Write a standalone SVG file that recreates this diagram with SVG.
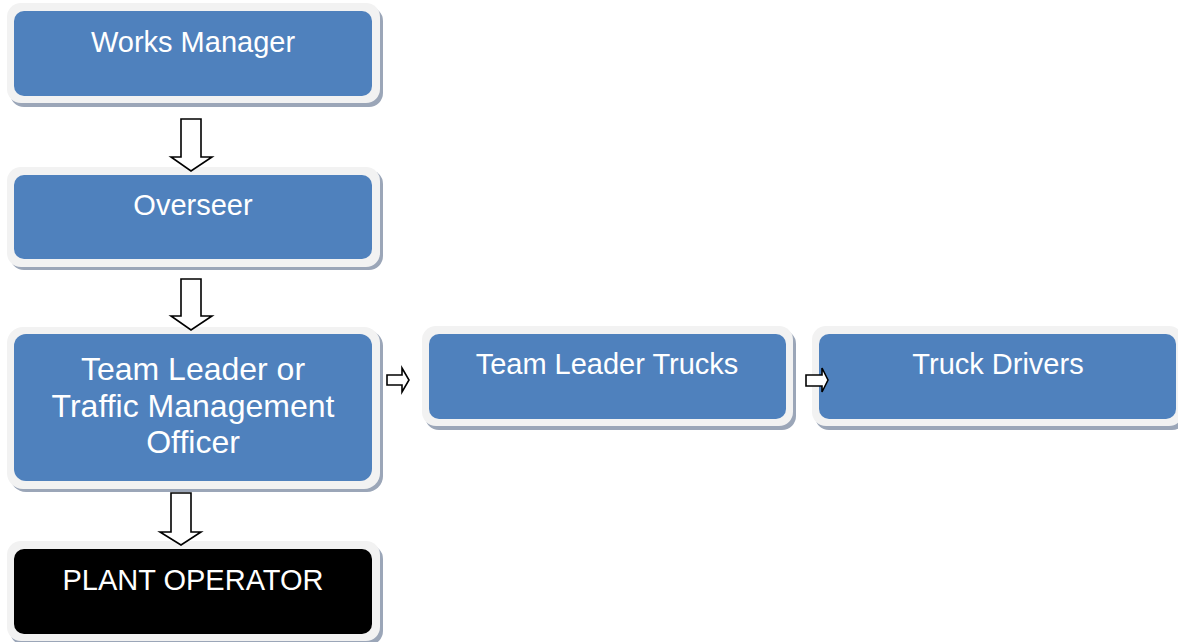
<svg xmlns="http://www.w3.org/2000/svg" width="1178" height="642" viewBox="0 0 1178 642">
<style>
.sh{fill:#9ba6b8}
.out{fill:#f2f2f2}
.in{fill:#4f81bd}
.blk{fill:#000000}
.t{font-family:"Liberation Sans",Arial,sans-serif;font-size:29px;fill:#ffffff;text-anchor:middle}
.t2{font-family:"Liberation Sans",Arial,sans-serif;font-size:32px;fill:#ffffff;text-anchor:middle}
.arr{fill:#ffffff;stroke:#000000;stroke-width:1.6;stroke-linejoin:miter}
</style>
<rect width="1178" height="642" fill="#ffffff"/>
<g id="works-manager">
<rect class="sh" x="10" y="7" width="373" height="100" rx="14"/>
<rect class="out" x="7" y="3" width="373" height="100" rx="14"/>
<rect class="in" x="14" y="11" width="358" height="85" rx="10"/>
<text class="t" x="193" y="52">Works Manager</text>
</g>
<g id="overseer">
<rect class="sh" x="10" y="170" width="373" height="100" rx="14"/>
<rect class="out" x="7" y="167" width="373" height="100" rx="14"/>
<rect class="in" x="14" y="175" width="358" height="84" rx="10"/>
<text class="t" x="193" y="215">Overseer</text>
</g>
<g id="team-leader">
<rect class="sh" x="10" y="330" width="373" height="162" rx="16"/>
<rect class="out" x="7" y="327" width="373" height="162" rx="16"/>
<rect class="in" x="14" y="334" width="358" height="147" rx="12"/>
<text class="t2" x="193" y="380">Team Leader or</text>
<text class="t2" x="193" y="417">Traffic Management</text>
<text class="t2" x="193" y="453">Officer</text>
</g>
<g id="plant-operator">
<rect class="sh" x="10" y="545" width="373" height="100" rx="14"/>
<rect class="out" x="7" y="541" width="373" height="100" rx="14"/>
<rect class="blk" x="14" y="549" width="358" height="85" rx="10"/>
<text class="t" x="193" y="590">PLANT OPERATOR</text>
</g>
<g id="team-leader-trucks">
<rect class="sh" x="425" y="330" width="371" height="100" rx="14"/>
<rect class="out" x="422" y="326" width="371" height="100" rx="14"/>
<rect class="in" x="429" y="334" width="357" height="85" rx="10"/>
<text class="t" x="607" y="374">Team Leader Trucks</text>
</g>
<g id="truck-drivers">
<rect class="sh" x="815" y="330" width="371" height="100" rx="14"/>
<rect class="out" x="812" y="326" width="371" height="100" rx="14"/>
<rect class="in" x="819" y="334" width="357" height="85" rx="10"/>
<text class="t" x="998" y="374">Truck Drivers</text>
</g>
<g id="connectors">
<polygon class="arr" points="181,119 201,119 201,157 212,157 191,171 171,157 181,157"/>
<polygon class="arr" points="181,279 201,279 201,316 212,316 191,330 171,316 181,316"/>
<polygon class="arr" points="171,493 191,493 191,532 201,532 181,545 160,532 171,532"/>
<polygon class="arr" points="387,375 402,375 402,368 409,380 402,392 402,385 387,385"/>
<polygon class="arr" points="806,375 822,375 822,368 828,380 822,392 822,386 806,386"/>
</g>
</svg>
